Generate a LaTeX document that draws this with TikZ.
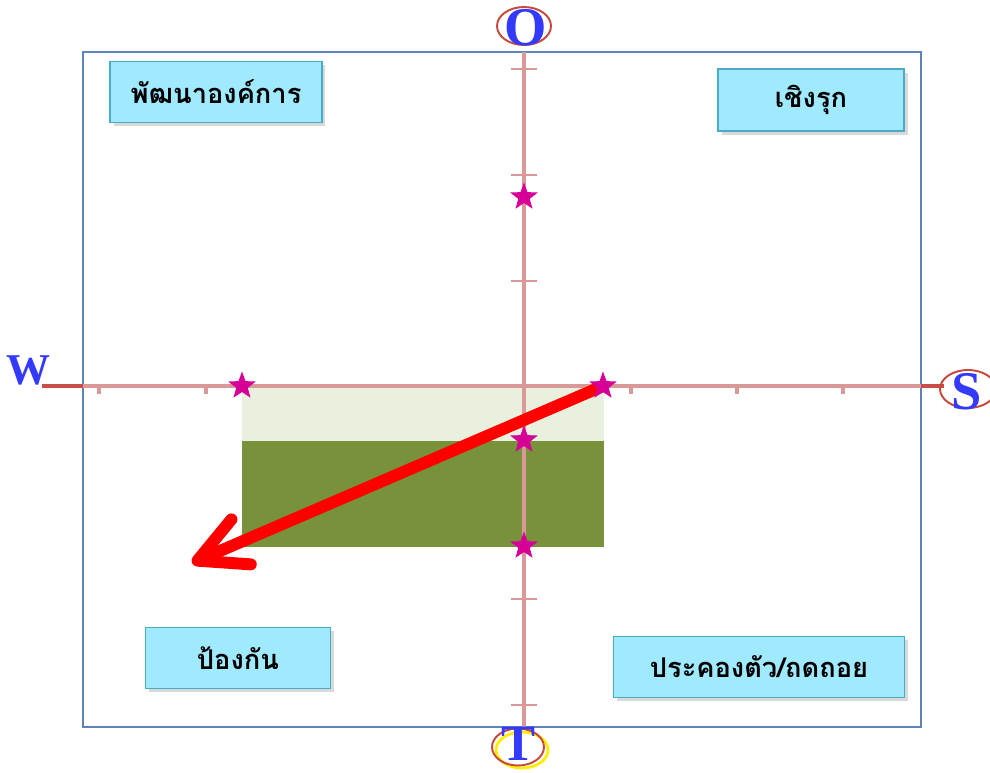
\documentclass[tikz,border=0pt]{standalone}
\usepackage{fontspec}
\setmainfont{Liberation Serif}
\newfontfamily\thaifont[Script=Thai]{Loma}
\usetikzlibrary{shapes.geometric,arrows.meta,shadows}
\definecolor{FrameBlue}{RGB}{95,130,185}
\definecolor{AxisPink}{RGB}{219,152,152}
\definecolor{AxisRed}{RGB}{200,78,72}
\definecolor{RingRed}{RGB}{198,72,60}
\definecolor{RingYellow}{RGB}{255,238,0}
\definecolor{LetterBlue}{RGB}{52,58,252}
\definecolor{StarMagenta}{RGB}{214,0,150}
\definecolor{BoxFill}{RGB}{160,234,255}
\definecolor{BoxEdge}{RGB}{75,170,200}
\definecolor{PaleGreen}{RGB}{234,240,222}
\definecolor{OliveGreen}{RGB}{119,146,59}
\definecolor{ArrowRed}{RGB}{255,0,0}
\tikzset{
  zone/.style={draw=BoxEdge,fill=BoxFill,line width=0.8pt,inner sep=0pt,
               drop shadow={shadow xshift=2pt,shadow yshift=-2pt,opacity=0.3},
               font=\thaifont\bfseries\fontsize{15.5}{18}\selectfont,text=black},
  pole/.style={font=\bfseries\fontsize{31}{31}\selectfont,text=LetterBlue,inner sep=0pt},
  ring/.style={draw=RingRed,line width=1.1pt},
  axis/.style={draw=AxisPink,line width=2.4pt},
  axisend/.style={draw=AxisRed,line width=2.6pt},
  vtick/.style={draw=AxisPink,line width=1.2pt},
  htick/.style={draw=AxisPink,line width=2.2pt},
  starmark/.style={star,star points=5,star point ratio=2.4,fill=StarMagenta,
                   minimum size=0.58cm,inner sep=0pt},
  movearrow/.style={draw=ArrowRed,line width=6.8pt,line cap=round,
                    -{Straight Barb[length=0.95cm,width=0.98cm,round]}},
}

\begin{document}
\begin{tikzpicture}[x=0.02cm,y=-0.02cm]
  \useasboundingbox (0,0) rectangle (990,772);

  % Score bands
  \fill[PaleGreen] (242,386) rectangle (604,441);
  \fill[OliveGreen] (242,441) rectangle (604,547);

  % Frame
  \draw[FrameBlue,line width=0.9pt] (83,52) rectangle (921,727);

  % Axes
  \draw[axis] (524,52) -- (524,727);
  \draw[axis] (83,386) -- (921,386);
  \draw[axisend] (42,386) -- (83,386);
  \draw[axisend] (921,386) -- (944,386);
  \foreach \ty in {69,175,281,599,705}
    \draw[vtick] (511,\ty) -- (537,\ty);
  \foreach \tx in {99,206,631,737,843}
    \draw[htick] (\tx,386) -- (\tx,394);

  % Poles
  \draw[ring] (524,26) ellipse [x radius=0.54cm,y radius=0.38cm];
  \node[pole] (poleO) at (526,28) {O};
  \node[pole,font=\bfseries\fontsize{25}{25}\selectfont] (poleW) at (28,370) {W};
  \draw[ring] (968,389) ellipse [x radius=0.56cm,y radius=0.38cm];
  \node[pole] (poleS) at (967,392) {S};
  \draw[RingYellow,line width=1.6pt] (522,750) ellipse [x radius=0.52cm,y radius=0.36cm];
  \draw[ring] (518,747) ellipse [x radius=0.52cm,y radius=0.37cm];
  \node[pole,font=\bfseries\fontsize{29}{29}\selectfont] (poleT) at (518,744) {T};

  % Quadrant labels
  \node[zone,minimum width=4.24cm,minimum height=1.22cm] (qDevelop) at (216,92) {พัฒนาองค์การ};
  \node[zone,minimum width=3.72cm,minimum height=1.24cm] (qAttack) at (811,100) {เชิงรุก};
  \node[zone,minimum width=3.70cm,minimum height=1.22cm] (qDefend) at (238,658) {ป้องกัน};
  \node[zone,minimum width=5.82cm,minimum height=1.22cm] (qRetreat) at (759,667) {ประคองตัว/ถดถอย};

  % Direction of movement
  \coordinate (pivot) at (603,386);
  \coordinate (heading) at (192,563);
  \draw[movearrow] (pivot) -- (heading);

  % Scores
  \node[starmark] (sLeft) at (242,386) {};
  \node[starmark] (sRight) at (pivot) {};
  \node[starmark] (sUp) at (524,197) {};
  \node[starmark] (sMid) at (524,440) {};
  \node[starmark] (sLow) at (524,546) {};
\end{tikzpicture}
\end{document}
